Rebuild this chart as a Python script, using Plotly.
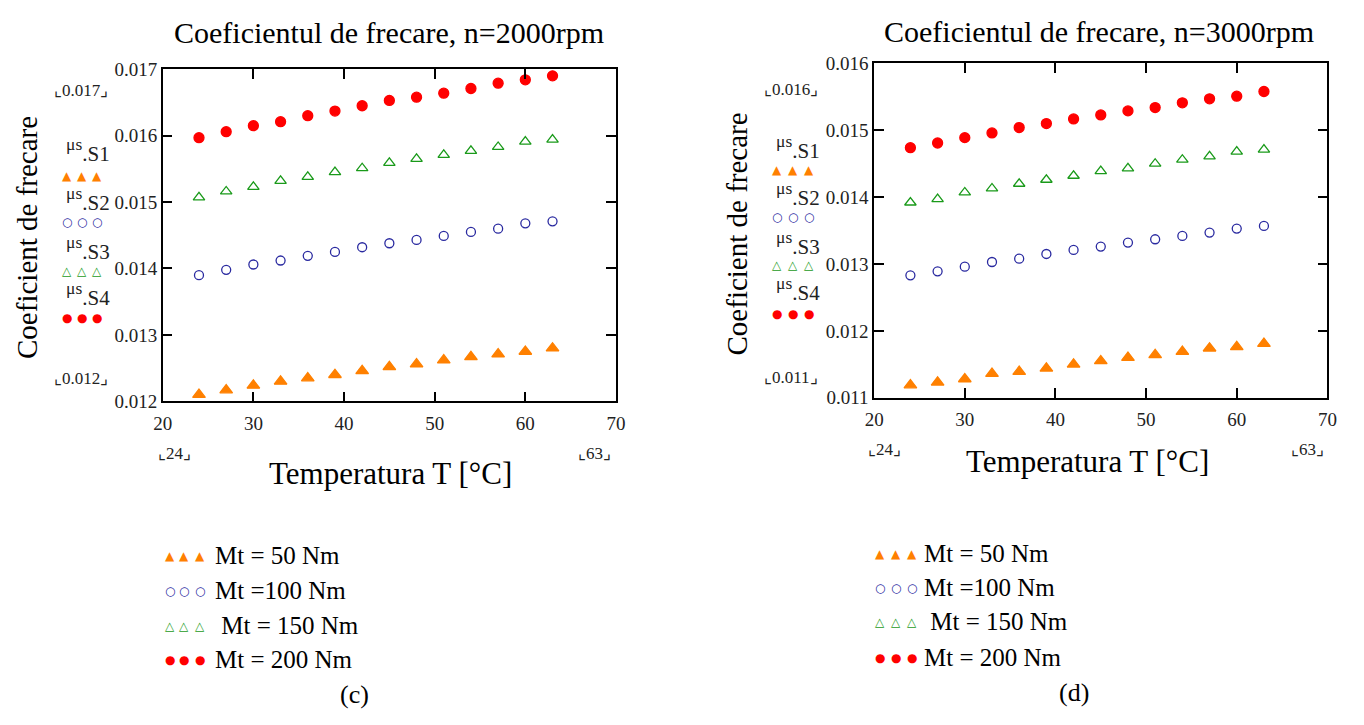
import plotly.graph_objects as go

# ---------------- data ----------------
temperature = [24, 27, 30, 33, 36, 39, 42, 45, 48, 51, 54, 57, 60, 63]
series_names = ["Mt = 50 Nm", "Mt =100 Nm", " Mt = 150 Nm", "Mt = 200 Nm"]
inner_labels = ["S1", "S2", "S3", "S4"]

# n = 2000 rpm
mu2000_S1 = [0.01210, 0.01217, 0.01224, 0.01230, 0.01235, 0.01240, 0.01246,
             0.01252, 0.01256, 0.01262, 0.01267, 0.01271, 0.01275, 0.01280]
mu2000_S2 = [0.01390, 0.01398, 0.01406, 0.01412, 0.01419, 0.01425, 0.01432,
             0.01438, 0.01443, 0.01449, 0.01455, 0.01460, 0.01468, 0.01471]
mu2000_S3 = [0.01507, 0.01516, 0.01523, 0.01532, 0.01538, 0.01545, 0.01551,
             0.01559, 0.01565, 0.01571, 0.01577, 0.01583, 0.01591, 0.01594]
mu2000_S4 = [0.01597, 0.01606, 0.01615, 0.01621, 0.01630, 0.01637, 0.01645,
             0.01653, 0.01658, 0.01664, 0.01671, 0.01679, 0.01684, 0.01690]

# n = 3000 rpm
mu3000_S1 = [0.01119, 0.01123, 0.01128, 0.01136, 0.01139, 0.01144, 0.01150,
             0.01155, 0.01160, 0.01164, 0.01169, 0.01174, 0.01176, 0.01181]
mu3000_S2 = [0.01283, 0.01289, 0.01296, 0.01303, 0.01308, 0.01315, 0.01321,
             0.01326, 0.01332, 0.01337, 0.01342, 0.01347, 0.01353, 0.01357]
mu3000_S3 = [0.01392, 0.01397, 0.01407, 0.01413, 0.01420, 0.01426, 0.01432,
             0.01439, 0.01443, 0.01450, 0.01456, 0.01461, 0.01468, 0.01471]
mu3000_S4 = [0.01474, 0.01481, 0.01489, 0.01496, 0.01504, 0.01510, 0.01517,
             0.01523, 0.01529, 0.01534, 0.01541, 0.01547, 0.01551, 0.01558]

x_range = [20, 70]
x_ticks = [20, 30, 40, 50, 60, 70]
y_range_2000 = [0.012, 0.017]
y_range_3000 = [0.011, 0.016]
titles = ["Coeficientul de frecare, n=2000rpm", "Coeficientul de frecare, n=3000rpm"]
panel_tags = ["(c)", "(d)"]

# ---------------- style ----------------
W, H = 1364, 725
SERIF = "Liberation Serif"
GLYPH = "DejaVu Sans"
colors = ["#FF8000", "#2A2AA0", "#1A9A1A", "#FF0000"]
symbols = ["triangle-up", "circle-open", "triangle-up-open", "circle"]
sizes = [11, 9, 10, 10]
legend_glyphs = ["▲", "○", "△", "●"]


def px(x):
    return x / W


def py(y):
    return 1 - y / H


fig = go.Figure()

panels = [
    (mu2000_S1, mu2000_S2, mu2000_S3, mu2000_S4),
    (mu3000_S1, mu3000_S2, mu3000_S3, mu3000_S4),
]
for p, data in enumerate(panels):
    xa = "x" if p == 0 else "x2"
    ya = "y" if p == 0 else "y2"
    for i, vals in enumerate(data):
        fig.add_trace(go.Scatter(
            x=temperature, y=vals, mode="markers", xaxis=xa, yaxis=ya,
            name=series_names[i], showlegend=False,
            marker=dict(symbol=symbols[i], size=sizes[i], color=colors[i],
                        line=dict(color=colors[i], width=1.3)),
        ))

axis_common = dict(
    showline=True, linecolor="black", linewidth=1.5, mirror="ticks",
    ticks="inside", ticklen=10, tickwidth=1.5, tickcolor="black",
    showgrid=False, zeroline=False,
    tickfont=dict(family=SERIF, size=19, color="#222"),
)

fig.update_layout(
    width=W, height=H,
    margin=dict(l=0, r=0, t=0, b=0),
    paper_bgcolor="white", plot_bgcolor="white",
    font=dict(family=SERIF, color="#222"),
    xaxis=dict(domain=[px(155), px(615)], range=x_range, tickvals=x_ticks,
               anchor="y", ticklabelstandoff=4, **axis_common),
    yaxis=dict(domain=[py(403), py(61)], range=y_range_2000, dtick=0.001,
               tickformat=".3f", anchor="x", ticklabelstandoff=0, **axis_common),
    xaxis2=dict(domain=[px(877), px(1337)], range=x_range, tickvals=x_ticks,
                anchor="y2", ticklabelstandoff=4, **axis_common),
    yaxis2=dict(domain=[py(399.3), py(55)], range=y_range_3000, dtick=0.001,
                tickformat=".3f", anchor="x2", ticklabelstandoff=0, **axis_common),
)

ann = []


def text(x, y, s, size, color="black", family=SERIF, angle=0, xanchor="center"):
    ann.append(dict(x=px(x), y=py(y), xref="paper", yref="paper", text=s,
                    showarrow=False, textangle=angle, xanchor=xanchor,
                    yanchor="middle",
                    font=dict(family=family, size=size, color=color)))


# titles
text(385, 23, titles[0], 30)
text(1105, 22, titles[1], 30)
# y titles
text(17, 234, "Coeficient de frecare", 29, angle=-90)
text(738, 231, "Coeficient de frecare", 29, angle=-90)
# x titles
text(386, 477, "Temperatura T [°C]", 31)
text(1094, 465, "Temperatura T [°C]", 31)

# Mathcad range markers
yr = [y_range_2000, y_range_3000]
bracket_pos = [
    dict(yx=72, ytop=83, ybot=380, x24=(167, 457), x63=(593, 457)),
    dict(yx=793, ytop=82, ybot=378, x24=(888, 453), x63=(1317, 453)),
]
for p, bp in enumerate(bracket_pos):
    text(bp["yx"], bp["ytop"], "⌞%.3f⌟" % yr[p][1], 17, color="#222")
    text(bp["yx"], bp["ybot"], "⌞%.3f⌟" % yr[p][0], 17, color="#222")
    text(bp["x24"][0], bp["x24"][1], "⌞%d⌟" % temperature[0], 17, color="#222")
    text(bp["x63"][0], bp["x63"][1], "⌞%d⌟" % temperature[-1], 17, color="#222")

# Mathcad inner trace labels
inner = [
    dict(lx=79, labels=[147, 198, 248, 295], mx=[58, 73, 88], marks=[171, 218, 269, 317]),
    dict(lx=800, labels=[144, 193, 243, 290], mx=[778, 795, 811], marks=[165, 213, 263, 313]),
]
for p, spec in enumerate(inner):
    for i in range(4):
        text(spec["lx"], spec["labels"][i] - 3,
             "<span style='font-size:25px'><sup>μs</sup></span>." + inner_labels[i],
             21, color="#222")
        for mxv in spec["mx"]:
            text(mxv, spec["marks"][i], legend_glyphs[i], 12,
                 color=colors[i], family=GLYPH)

# bottom legends
bottom = [
    dict(mx=[162, 177, 193], tx=206, rows=[562, 598, 634, 669], tag=(350, 705)),
    dict(mx=[883, 899, 915], tx=926, rows=[560, 595, 630, 667], tag=(1080, 703)),
]
for p, spec in enumerate(bottom):
    for i in range(4):
        for mxv in spec["mx"]:
            text(mxv, spec["rows"][i], legend_glyphs[i], 12, color=colors[i], family=GLYPH)
        text(spec["tx"], spec["rows"][i], series_names[i], 25, xanchor="left")
    text(spec["tag"][0], spec["tag"][1], panel_tags[p], 26)

fig.update_layout(annotations=ann)
fig.write_html(
    "out.html",
    config={"displayModeBar": False},
    post_script="document.body.style.margin='0';document.body.style.overflow='hidden';",
)
